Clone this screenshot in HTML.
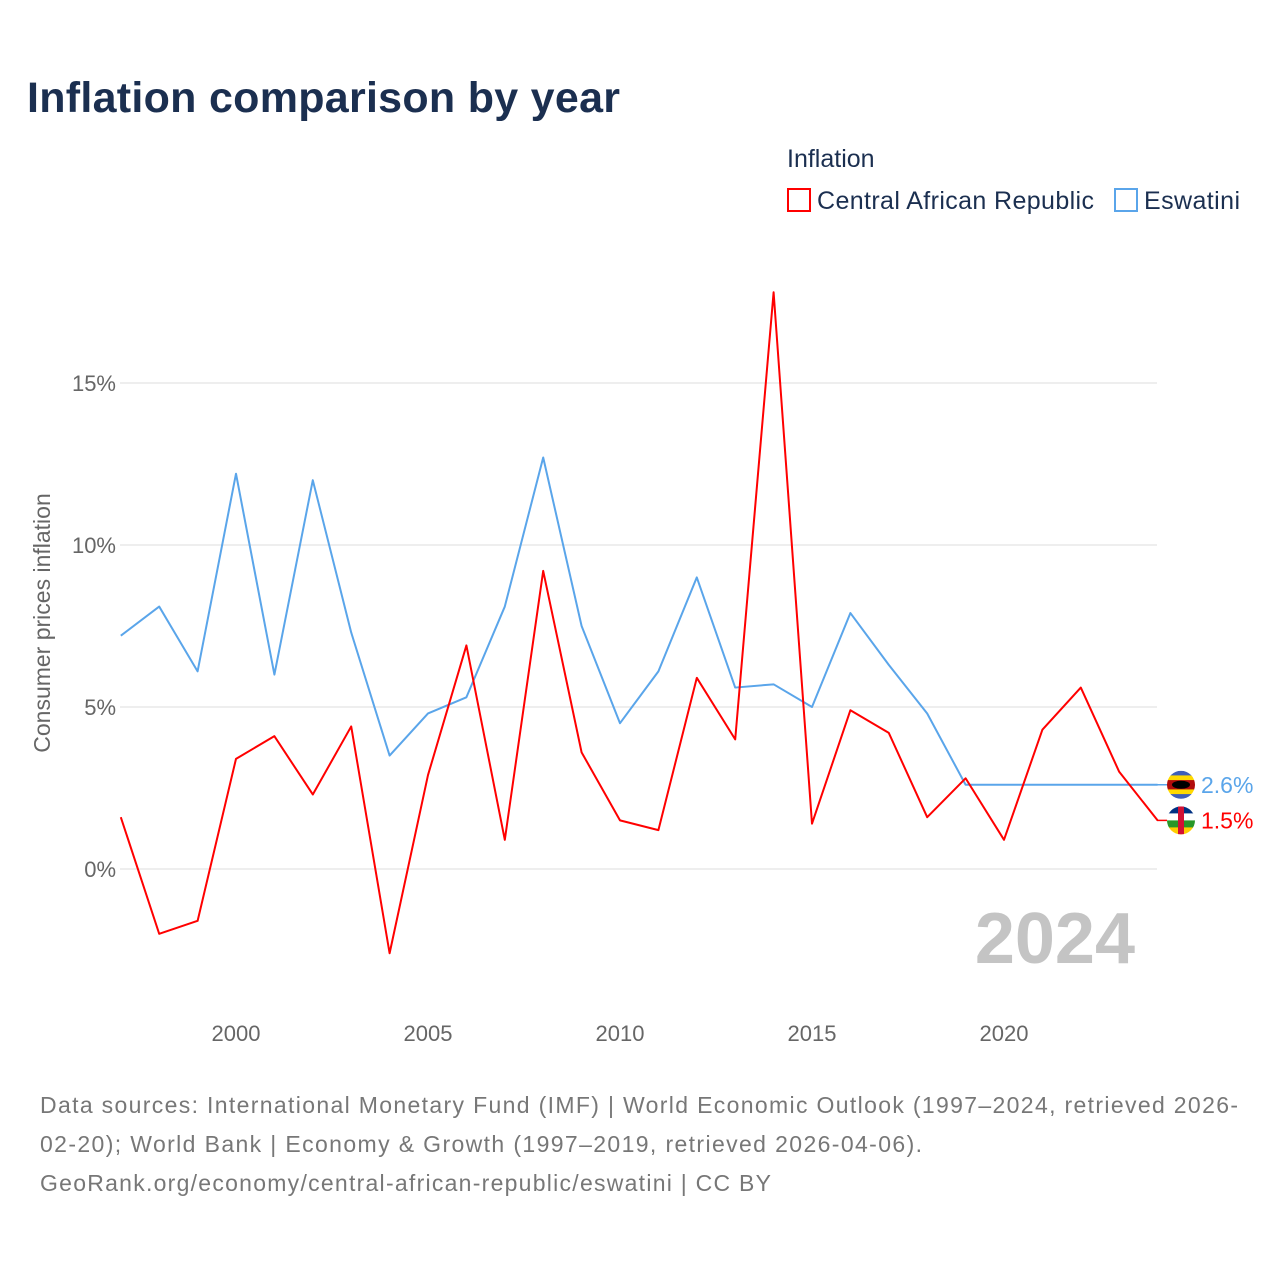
<!DOCTYPE html>
<html><head><meta charset="utf-8"><style>
body{margin:0;background:#fff;font-family:"Liberation Sans",sans-serif}
</style></head><body>
<svg id="c" width="1280" height="1280" xmlns="http://www.w3.org/2000/svg">
<defs>
<clipPath id="cl1"><circle cx="1181" cy="784.8" r="14"/></clipPath>
<clipPath id="cl2"><circle cx="1181" cy="820.4" r="14"/></clipPath>
</defs>
<text x="27" y="112" font-size="43" font-weight="bold" fill="#1b2f50" textLength="593">Inflation comparison by year</text>
<text x="787" y="167" font-size="25" fill="#1b2f50">Inflation</text>
<g><rect x="788" y="189" width="22" height="22" fill="none" stroke="#f00" stroke-width="2"/><text x="817" y="209" font-size="25" fill="#1b2f50" textLength="277">Central African Republic</text></g>
<g><rect x="1115" y="189" width="22" height="22" fill="none" stroke="#5aa5ea" stroke-width="2"/><text x="1144" y="209" font-size="25" fill="#1b2f50" textLength="96">Eswatini</text></g>
<g id="grid"></g><g id="lines"></g>
<text x="50" y="623" font-size="23" fill="#666" transform="rotate(-90 50 623)" text-anchor="middle">Consumer prices inflation</text>
<text x="1135" y="963" font-size="72" font-weight="bold" fill="#c4c4c4" text-anchor="end">2024</text>
<g font-size="23" fill="#777">
<text x="40" y="1113" textLength="1198">Data sources: International Monetary Fund (IMF) | World Economic Outlook (1997–2024, retrieved 2026-</text>
<text x="40" y="1152" textLength="882">02-20); World Bank | Economy &amp; Growth (1997–2019, retrieved 2026-04-06).</text>
<text x="40" y="1191" textLength="731">GeoRank.org/economy/central-african-republic/eswatini | CC BY</text></g>
</svg>
<script>
const years=[];for(let y=1997;y<=2024;y++)years.push(y);
const carValues=[1.6,-2.0,-1.6,3.4,4.1,2.3,4.4,-2.6,2.9,6.9,0.9,9.2,3.6,1.5,1.2,5.9,4.0,17.8,1.4,4.9,4.2,1.6,2.8,0.9,4.3,5.6,3.0,1.5];
const eswValues=[7.2,8.1,6.1,12.2,6.0,12.0,7.3,3.5,4.8,5.3,8.1,12.7,7.5,4.5,6.1,9.0,5.6,5.7,5.0,7.9,6.3,4.8,2.6,2.6,2.6,2.6,2.6,2.6];
const yTicks=[0,5,10,15];
const xTicks=[2000,2005,2010,2015,2020];
const NS="http://www.w3.org/2000/svg";
const X=y=>120.8+(y-1997)*38.4, Y=v=>869-v*32.4;
const g=document.getElementById('grid'), L=document.getElementById('lines');
function mk(tag,at,par){const e=document.createElementNS(NS,tag);for(const k in at)e.setAttribute(k,at[k]);par.appendChild(e);return e;}
yTicks.forEach(t=>{
 const l=mk('line',{x1:120,x2:1157,y1:Y(t),y2:Y(t),stroke:'#e8e8e8','stroke-width':1.5},g);
 
 
 const tx=mk('text',{x:116,y:Y(t)+8,'font-size':22,fill:'#666','text-anchor':'end'},g);tx.textContent=t+'%';
 
 
});
xTicks.forEach(t=>{
 const tx=mk('text',{x:X(t),y:1041,'font-size':22,fill:'#666','text-anchor':'middle'},g);tx.textContent=t;
 
 
});
function line(vals,col,name,stripes,clip,vband){
 const p=mk('polyline',{points:vals.map((v,i)=>X(years[i])+','+Y(v)).join(' '),fill:'none',stroke:col,'stroke-width':2,'stroke-linejoin':'round'},L);
 
 
 const last=vals[vals.length-1], cy=Y(last);
 mk('line',{x1:1157,x2:1168,y1:cy,y2:cy,stroke:col,'stroke-width':1.5},L);
 const fg=mk('g',{'clip-path':'url(#'+clip+')'},L);
 
 
 const h=28/stripes.length;
 stripes.forEach((c,i)=>mk('rect',{x:1167,y:cy-14+i*h,width:28,height:h+0.5,fill:c},fg));
 if(vband)mk('rect',{x:1178,y:cy-14,width:6,height:28,fill:vband},fg);
 const t=mk('text',{x:1201,y:cy+8,'font-size':23,fill:col},L);t.textContent=last.toFixed(1)+'%';
 
 
}
line(eswValues,'#5aa5ea','eswatini-line',['#3e5eb9','#ffd900','#b10c0c','#b10c0c','#ffd900','#3e5eb9'],'cl1',null);
mk('ellipse',{cx:1181,cy:Y(2.6),rx:9,ry:4,fill:'#000'},L);
line(carValues,'#f00','car-line',['#003082','#fff','#289728','#ffce00'],'cl2','#d21034');
</script>
</body></html>
